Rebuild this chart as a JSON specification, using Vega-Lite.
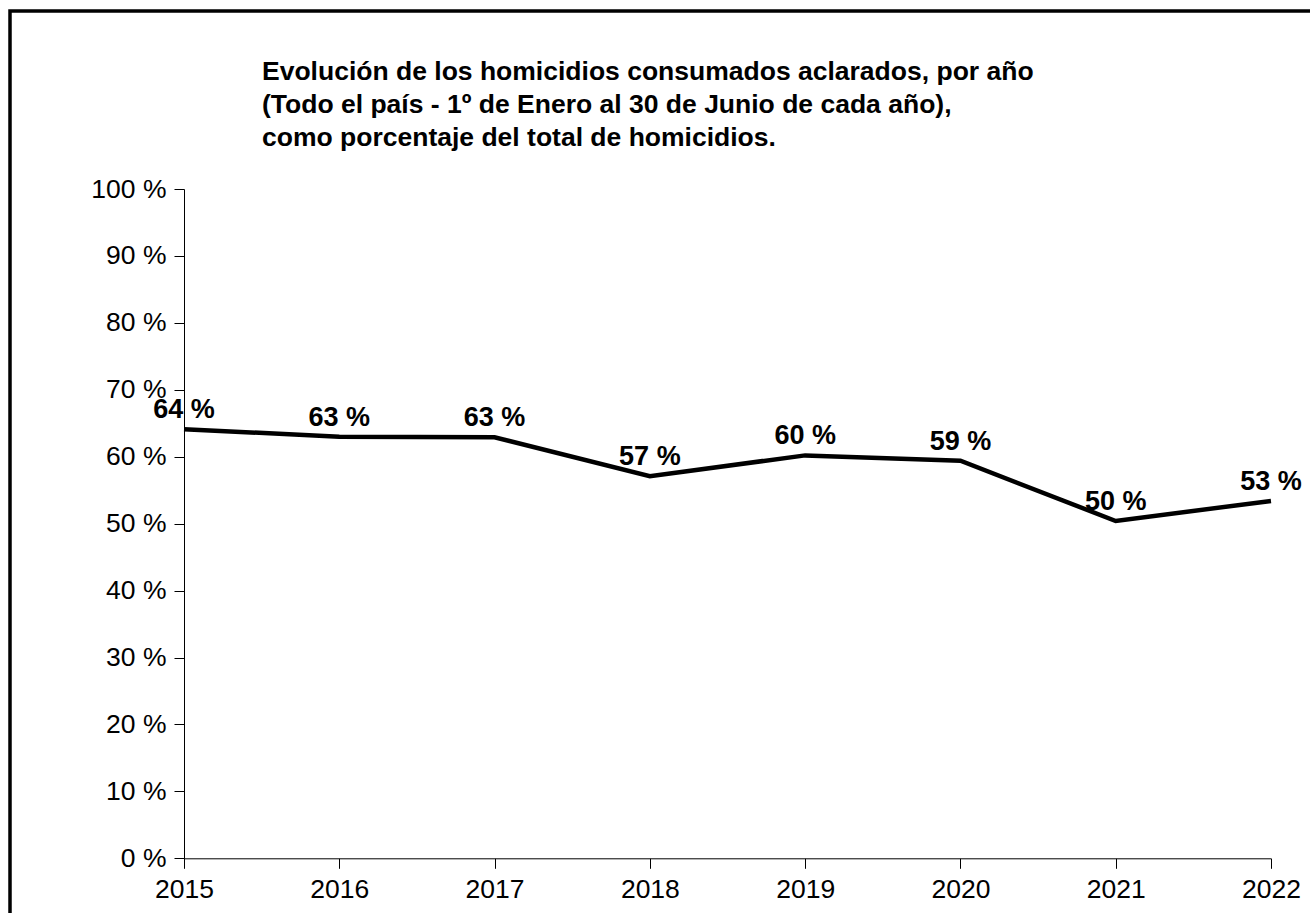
{
  "$schema": "https://vega.github.io/schema/vega-lite/v6.json",
  "width": 1306,
  "height": 908,
  "autosize": {"type": "none"},
  "padding": {"left": 10, "top": 11, "right": -6, "bottom": -6},
  "background": "white",
  "config": {
    "view": {"stroke": "black", "strokeWidth": 3.5},
    "font": "Liberation Sans"
  },
  "title": {
    "text": [
      "Evolución de los homicidios consumados aclarados, por año",
      "(Todo el país - 1º de Enero al 30 de Junio de cada año),",
      "como porcentaje del total de homicidios."
    ],
    "anchor": "start",
    "frame": "group",
    "font": "Liberation Sans",
    "fontSize": 26.5,
    "fontWeight": "bold",
    "color": "black",
    "lineHeight": 33,
    "baseline": "top",
    "offset": 0,
    "dx": 252,
    "dy": 140
  },
  "data": {
    "values": [
      {"year": 2015, "pct": 64.1, "label": "64 %"},
      {"year": 2016, "pct": 63.0, "label": "63 %"},
      {"year": 2017, "pct": 62.9, "label": "63 %"},
      {"year": 2018, "pct": 57.1, "label": "57 %"},
      {"year": 2019, "pct": 60.2, "label": "60 %"},
      {"year": 2020, "pct": 59.4, "label": "59 %"},
      {"year": 2021, "pct": 50.4, "label": "50 %"},
      {"year": 2022, "pct": 53.4, "label": "53 %"}
    ]
  },
  "encoding": {
    "x": {
      "field": "year",
      "type": "quantitative",
      "scale": {"domain": [2015, 2022], "range": [174, 1261], "nice": false, "zero": false},
      "axis": {
        "values": [2015, 2016, 2017, 2018, 2019, 2020, 2021, 2022],
        "format": "d",
        "title": null,
        "grid": false,
        "offset": -60.7,
        "tickSize": 10,
        "labelFontSize": 26.5,
        "labelFont": "Liberation Sans",
        "labelPadding": 8,
        "labelColor": "black",
        "domainColor": "black",
        "tickColor": "black",
        "labelFlush": false,
        "labelOverlap": false
      }
    },
    "y": {
      "field": "pct",
      "type": "quantitative",
      "scale": {"domain": [0, 100], "range": [847.3, 178], "nice": false, "zero": true},
      "axis": {
        "values": [0, 10, 20, 30, 40, 50, 60, 70, 80, 90, 100],
        "labelExpr": "datum.value + ' %'",
        "title": null,
        "grid": false,
        "offset": -174,
        "tickSize": 10,
        "labelFontSize": 26.5,
        "labelFont": "Liberation Sans",
        "labelPadding": 8,
        "labelColor": "black",
        "domainColor": "black",
        "tickColor": "black",
        "labelFlush": false,
        "labelOverlap": false
      }
    }
  },
  "layer": [
    {
      "mark": {"type": "line", "color": "black", "strokeWidth": 4.5}
    },
    {
      "mark": {"type": "text", "fontWeight": "bold", "fontSize": 27, "baseline": "alphabetic", "dy": -11, "color": "black", "font": "Liberation Sans"},
      "encoding": {"text": {"field": "label"}}
    }
  ]
}
